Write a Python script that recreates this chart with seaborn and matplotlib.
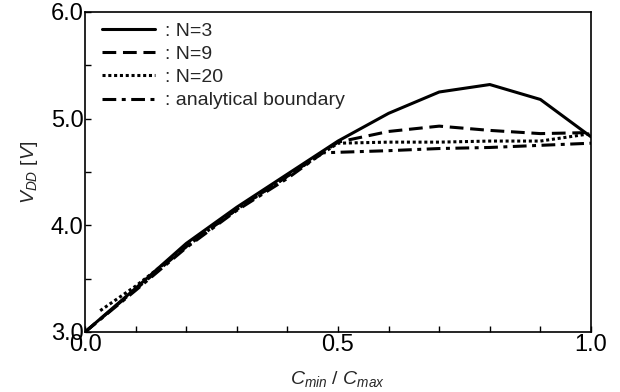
import numpy as np
import pandas as pd
import matplotlib
matplotlib.use("Agg")
import matplotlib.pyplot as plt
import seaborn as sns

# ---- data ----
x_n3 = [0.0, 0.1, 0.2, 0.3, 0.4, 0.5, 0.6, 0.7, 0.8, 0.9, 1.0]
y_n3 = [3.0, 3.41, 3.83, 4.17, 4.48, 4.79, 5.05, 5.25, 5.32, 5.18, 4.83]

x_n9 = [0.0, 0.1, 0.2, 0.3, 0.4, 0.5, 0.6, 0.7, 0.8, 0.9, 1.0]
y_n9 = [3.0, 3.40, 3.80, 4.15, 4.46, 4.78, 4.88, 4.93, 4.89, 4.86, 4.87]

x_n20 = [0.03, 0.1, 0.2, 0.3, 0.4, 0.5, 0.6, 0.7, 0.8, 0.9, 1.0]
y_n20 = [3.2, 3.43, 3.80, 4.15, 4.46, 4.77, 4.78, 4.78, 4.79, 4.79, 4.86]

x_an = [0.0, 0.1, 0.2, 0.3, 0.4, 0.47, 0.6, 0.7, 0.8, 0.9, 1.0]
y_an = [3.0, 3.39, 3.79, 4.14, 4.44, 4.68, 4.70, 4.72, 4.73, 4.75, 4.77]

labels = [": N=3", ": N=9", ": N=20", ": analytical boundary"]

frames = []
for lab, xs, ys in zip(labels, [x_n3, x_n9, x_n20, x_an], [y_n3, y_n9, y_n20, y_an]):
    frames.append(pd.DataFrame({"x": xs, "y": ys, "series": lab}))
df = pd.concat(frames, ignore_index=True)

sns.set_theme(style="ticks")
plt.rcParams["font.family"] = ["Liberation Sans", "DejaVu Sans"]
plt.rcParams["mathtext.fontset"] = "custom"
plt.rcParams["mathtext.it"] = "Liberation Sans:italic"
plt.rcParams["mathtext.rm"] = "Liberation Sans"

fig = plt.figure(figsize=(6.2, 3.92), dpi=100)
ax = fig.add_axes([85 / 620, 1 - 332 / 392, (591 - 85) / 620, (332 - 12) / 392])

dashes = {
    labels[0]: "",
    labels[1]: (4.5, 2.2),
    labels[2]: (1.0, 0.9),
    labels[3]: (4.5, 1.8, 1.3, 1.8),
}
sns.lineplot(data=df, x="x", y="y", style="series", style_order=labels,
             dashes=dashes, color="black", linewidth=2.2, estimator=None,
             sort=False, ax=ax)

ax.set_xlim(0, 1.0)
ax.set_ylim(3.0, 6.0)
ax.set_xticks([0.0, 0.5, 1.0])
ax.set_xticklabels(["0.0", "0.5", "1.0"])
ax.set_xticks(np.arange(0, 1.01, 0.1), minor=True)
ax.set_yticks([3.0, 4.0, 5.0, 6.0])
ax.set_yticklabels(["3.0", "4.0", "5.0", "6.0"])
ax.set_yticks([3.5, 4.5, 5.5], minor=True)
ax.tick_params(axis="both", which="both", direction="in", width=1.0,
               labelsize=17, colors="black")
ax.tick_params(axis="both", which="major", length=4)
ax.tick_params(axis="both", which="minor", length=4)
ax.tick_params(axis="x", pad=1.5)
ax.tick_params(axis="y", pad=1)
for s in ax.spines.values():
    s.set_visible(True)
    s.set_linewidth(1.2)
    s.set_color("black")

ax.set_xlabel(r"$C_{min}$ / $C_{max}$", fontsize=14, labelpad=9)
ax.set_ylabel(r"$V_{DD}$ $\it{[V]}$", fontsize=14, labelpad=8)

handles, labs = ax.get_legend_handles_labels()
leg = ax.legend(handles, labs, loc="upper left", frameon=False, fontsize=14,
                handlelength=2.7, handletextpad=0.55, labelspacing=0.29,
                borderpad=0, borderaxespad=0,
                bbox_to_anchor=(17 / 506, 1 - 10 / 320))
for h in leg.get_lines():
    h.set_linewidth(2.2)

fig.savefig("out.png", dpi=100)
